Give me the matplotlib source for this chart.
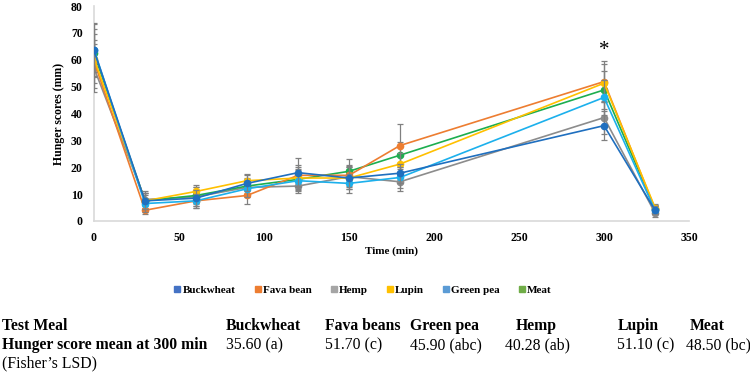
import matplotlib
matplotlib.use("Agg")
import matplotlib.pyplot as plt
from matplotlib.lines import Line2D

plt.rcParams['font.family'] = ['Liberation Serif', 'DejaVu Serif']

# time points (min)
times = [0, 30, 60, 90, 120, 150, 180, 300, 330]

# mean hunger scores
buckwheat = [63.5, 7.5, 8.5, 14.0, 18.0, 16.0, 17.8, 35.5, 4.0]
fava_bean = [59.5, 4.0, 7.5, 9.5, 17.0, 17.0, 28.1, 51.9, 4.5]
hemp = [57.0, 8.0, 9.0, 12.5, 13.0, 16.5, 14.6, 38.5, 3.0]
lupin = [60.5, 7.5, 11.0, 15.0, 16.0, 16.0, 21.2, 51.3, 5.0]
green_pea = [63.8, 6.5, 7.5, 12.0, 15.0, 14.0, 16.2, 46.0, 4.0]
meat = [62.5, 7.5, 9.5, 13.0, 15.5, 18.5, 24.5, 48.8, 4.5]

# error bar half-lengths
err_buckwheat = [8, 3, 3, 3, 5.5, 4, 3.5, 5.5, 1.5]
err_fava = [10, 1.5, 2.5, 3, 4, 4, 8, 7.5, 1.5]
err_hemp = [9, 3, 3.5, 3, 2.5, 4, 3.5, 6, 1.5]
err_lupin = [7, 3, 2.5, 2.5, 4, 4, 4, 7, 1.5]
err_green_pea = [10, 3, 2.5, 3, 4, 3.5, 4, 6.5, 1.5]
err_meat = [11, 3, 3, 3, 4, 4.5, 5, 7, 1.5]

names = ['Buckwheat', 'Fava bean', 'Hemp', 'Lupin', 'Green pea', 'Meat']
line_colors = ['#1F6FBF', '#ED7D31', '#8C8C8C', '#FFC000', '#1CB0EC', '#1DAE4F']
legend_colors = ['#4472C4', '#ED7D31', '#A5A5A5', '#FFC000', '#5B9BD5', '#70AD47']

# table under the chart
table_meals = ['Buckwheat', 'Fava beans', 'Green pea', 'Hemp', 'Lupin', 'Meat']
table_means = ['35.60 (a)', '51.70 (c)', '45.90 (abc)', '40.28 (ab)', '51.10 (c)', '48.50 (bc)']

series = [buckwheat, fava_bean, hemp, lupin, green_pea, meat]
errors = [err_buckwheat, err_fava, err_hemp, err_lupin, err_green_pea, err_meat]
zorders = [8, 5, 3, 6, 7, 4]

fig = plt.figure(figsize=(7.5, 3.83), dpi=100)
ax = fig.add_axes([0.1253, 0.423, 0.7934, 0.561])

for y, e, c, z in zip(series, errors, line_colors, zorders):
    ax.errorbar(times, y, yerr=e, color=c, lw=1.2, marker='o', ms=4.5,
                ecolor='#808080', elinewidth=0.9, capsize=2.2, capthick=0.9,
                zorder=z)

ax.text(300, 63.5, '*', ha='center', va='center', fontsize=15)

ax.set_xlim(0, 350)
ax.set_ylim(0, 80)
ax.set_xticks(range(0, 351, 50))
ax.set_yticks(range(0, 81, 10))
ax.tick_params(length=0, labelsize=8.5, pad=8)
for lab in ax.get_xticklabels() + ax.get_yticklabels():
    lab.set_fontweight('bold')
for s in ['top', 'right']:
    ax.spines[s].set_visible(False)
for s in ['left', 'bottom']:
    ax.spines[s].set_color('#D9D9D9')
    ax.spines[s].set_linewidth(1.2)

ax.set_xlabel('Time (min)', fontsize=8, fontweight='bold', labelpad=2)
ax.set_ylabel('Hunger scores (mm)', fontsize=8.5, fontweight='bold', labelpad=4)

handles = [Line2D([], [], ls='none', marker='s', ms=5, color=c) for c in legend_colors]
fig.legend(handles, names, loc='center', bbox_to_anchor=(0.483, 0.243), ncol=6,
           frameon=False, prop={'weight': 'bold', 'size': 8},
           handletextpad=0.05, columnspacing=1.6, handlelength=0.8)

# table text
fs = 11.3
row_y = [0.148, 0.098, 0.050]
fig.text(0.003, row_y[0], 'Test Meal', fontsize=fs, fontweight='bold', va='center')
fig.text(0.003, row_y[1], 'Hunger score mean at 300 min', fontsize=fs, fontweight='bold', va='center')
fig.text(0.003, row_y[2], "(Fisher\u2019s LSD)", fontsize=fs, va='center')
head_x = [0.301, 0.433, 0.547, 0.687, 0.823, 0.920]
val_x = [0.301, 0.433, 0.547, 0.673, 0.823, 0.915]
for x, m in zip(head_x, table_meals):
    fig.text(x, row_y[0], m, fontsize=fs, fontweight='bold', va='center')
for x, v in zip(val_x, table_means):
    fig.text(x, row_y[1], v, fontsize=fs, va='center')

fig.savefig('out.png', dpi=100)
